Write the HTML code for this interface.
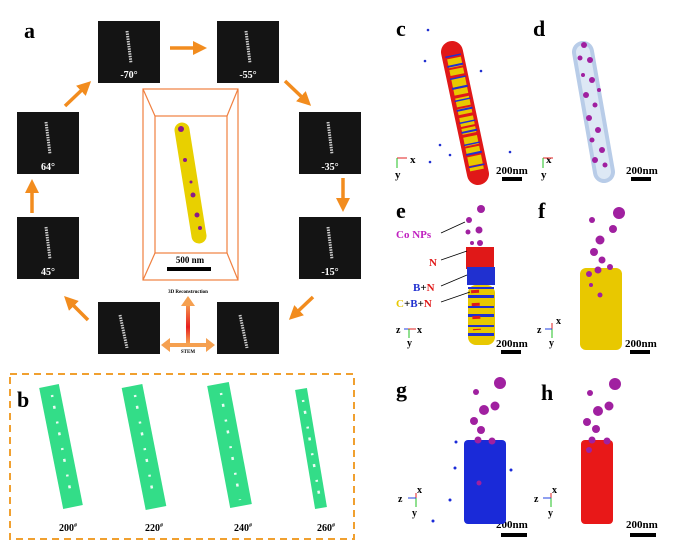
<!DOCTYPE html>
<html><head><meta charset="utf-8"><style>
html,body{margin:0;padding:0;background:#fff;}
svg{display:block;font-family:"Liberation Serif",serif;}
</style></head><body>
<svg width="674" height="547" viewBox="0 0 674 547" xmlns="http://www.w3.org/2000/svg">
<defs>
<marker id="ah" markerWidth="4" markerHeight="4" refX="2" refY="2" orient="auto"><path d="M0,0 L4,2 L0,4 Z" fill="#f28c1e"/></marker>
<linearGradient id="rg" x1="0" y1="0" x2="0" y2="1"><stop offset="0" stop-color="#f5a050"/><stop offset="0.6" stop-color="#e82020"/><stop offset="1" stop-color="#f5a050"/></linearGradient>
<g id="stem"><rect width="62" height="62" fill="#141414"/><line x1="29" y1="10" x2="33" y2="42" stroke="#ccc" stroke-width="3" stroke-dasharray="1.5 1"/></g>
</defs>
<text x="24" y="38" font-size="22" font-weight="bold">a</text>
<use href="#stem" x="98" y="21"/><text x="129" y="78" fill="#fff" font-size="10" font-weight="bold" text-anchor="middle">-70°</text>
<use href="#stem" x="217" y="21"/><text x="248" y="78" fill="#fff" font-size="10" font-weight="bold" text-anchor="middle">-55°</text>
<use href="#stem" x="17" y="112"/><text x="48" y="170" fill="#fff" font-size="10" font-weight="bold" text-anchor="middle">64°</text>
<use href="#stem" x="299" y="112"/><text x="330" y="170" fill="#fff" font-size="10" font-weight="bold" text-anchor="middle">-35°</text>
<use href="#stem" x="17" y="217"/><text x="48" y="275" fill="#fff" font-size="10" font-weight="bold" text-anchor="middle">45°</text>
<use href="#stem" x="299" y="217"/><text x="330" y="275" fill="#fff" font-size="10" font-weight="bold" text-anchor="middle">-15°</text>
<rect x="98" y="302" width="62" height="52" fill="#141414"/><line x1="120" y1="315" x2="127" y2="348" stroke="#ccc" stroke-width="3" stroke-dasharray="1.5 1"/>
<rect x="217" y="302" width="62" height="52" fill="#141414"/><line x1="240" y1="315" x2="247" y2="348" stroke="#ccc" stroke-width="3" stroke-dasharray="1.5 1"/>
<g stroke="#f28c1e" stroke-width="3.5" fill="none" marker-end="url(#ah)">
<line x1="170" y1="48" x2="200" y2="48"/><line x1="285" y1="81" x2="306" y2="101"/><line x1="343" y1="178" x2="343" y2="205"/>
<line x1="313" y1="297" x2="294" y2="315"/><line x1="88" y1="320" x2="69" y2="301"/><line x1="32" y1="213" x2="32" y2="186"/><line x1="65" y1="106" x2="86" y2="86"/>
</g>
<g stroke="#f08040" stroke-width="1.2" fill="none">
<rect x="143" y="89" width="95" height="191"/><rect x="155" y="116" width="72" height="137"/>
<line x1="143" y1="89" x2="155" y2="116"/><line x1="238" y1="89" x2="227" y2="116"/><line x1="143" y1="280" x2="155" y2="253"/><line x1="238" y1="280" x2="227" y2="253"/>
</g>
<line x1="182" y1="130" x2="199" y2="236" stroke="#e8d000" stroke-width="15" stroke-linecap="round"/>
<g fill="#8a1a8a"><circle cx="181" cy="129" r="3"/><circle cx="185" cy="160" r="2"/><circle cx="193" cy="195" r="2.5"/><circle cx="197" cy="215" r="2.5"/><circle cx="200" cy="228" r="2"/><circle cx="191" cy="182" r="1.5"/></g>
<text x="190" y="263" font-size="9" font-weight="bold" text-anchor="middle">500 nm</text>
<rect x="167" y="267" width="44" height="4" fill="#000"/>
<rect x="186" y="303" width="4" height="40" fill="url(#rg)"/><path d="M181,306 L188,296 L195,306 Z" fill="#f5a050"/>
<rect x="168" y="343" width="40" height="4" fill="#f5a050"/><path d="M170,338 L161,345 L170,352 Z M206,338 L215,345 L206,352 Z" fill="#f5a050"/>
<text x="188" y="293" font-size="5" font-weight="bold" text-anchor="middle">3D Reconstruction</text>
<text x="188" y="353" font-size="5" font-weight="bold" text-anchor="middle">STEM</text>
<rect x="10" y="374" width="344" height="165" fill="none" stroke="#f0a030" stroke-width="2" stroke-dasharray="7 5"/>
<text x="17" y="407" font-size="22" font-weight="bold">b</text>
<g stroke="#33dd88" stroke-linecap="butt">
<line x1="49" y1="386" x2="73" y2="507" stroke-width="20"/><line x1="132" y1="386" x2="156" y2="508" stroke-width="21"/>
<line x1="218" y1="384" x2="241" y2="506" stroke-width="22"/><line x1="301" y1="389" x2="321" y2="508" stroke-width="12"/>
</g>
<g stroke="#fff" stroke-width="2.5" stroke-dasharray="2 9 3 13" opacity="0.9">
<line x1="52" y1="395" x2="72" y2="500"/><line x1="135" y1="395" x2="154" y2="500"/><line x1="221" y1="393" x2="240" y2="500"/><line x1="303" y1="400" x2="320" y2="500"/>
</g>
<g font-size="10" font-weight="bold" text-anchor="middle"><text x="68" y="531">200<tspan font-size="6" dy="-4">#</tspan></text><text x="154" y="531">220<tspan font-size="6" dy="-4">#</tspan></text><text x="243" y="531">240<tspan font-size="6" dy="-4">#</tspan></text><text x="326" y="531">260<tspan font-size="6" dy="-4">#</tspan></text></g>
<g font-size="22" font-weight="bold"><text x="396" y="36">c</text><text x="533" y="36">d</text><text x="396" y="218">e</text><text x="538" y="218">f</text><text x="396" y="397">g</text><text x="541" y="400">h</text></g>
<line x1="452" y1="52" x2="478" y2="174" stroke="#e01818" stroke-width="22" stroke-linecap="round"/>
<line x1="454" y1="58" x2="477" y2="170" stroke="#e8c800" stroke-width="14" stroke-dasharray="9 2 6 3"/>
<line x1="453" y1="55" x2="478" y2="172" stroke="#2030d0" stroke-width="16" stroke-dasharray="1.5 8 2 11"/>
<g fill="#2030d0"><circle cx="428" cy="30" r="1.3"/><circle cx="425" cy="61" r="1.3"/><circle cx="481" cy="71" r="1.3"/><circle cx="440" cy="145" r="1.3"/><circle cx="430" cy="162" r="1.3"/><circle cx="510" cy="152" r="1.3"/><circle cx="450" cy="155" r="1.3"/></g>
<line x1="583" y1="52" x2="604" y2="172" stroke="#b8cce8" stroke-width="22" stroke-linecap="round"/>
<line x1="583" y1="52" x2="604" y2="172" stroke="#dde8f5" stroke-width="14" stroke-linecap="round"/>
<g fill="#a020a0"><circle cx="584" cy="45" r="3"/><circle cx="590" cy="60" r="3"/><circle cx="580" cy="58" r="2.5"/><circle cx="592" cy="80" r="3"/><circle cx="586" cy="95" r="3"/><circle cx="595" cy="105" r="2.5"/><circle cx="589" cy="118" r="3"/><circle cx="598" cy="130" r="3"/><circle cx="592" cy="140" r="2.5"/><circle cx="602" cy="150" r="3"/><circle cx="595" cy="160" r="3"/><circle cx="605" cy="165" r="2.5"/><circle cx="599" cy="90" r="2"/><circle cx="583" cy="75" r="2"/></g>
<g font-family="Liberation Serif" font-weight="bold" font-size="11">
<text x="410" y="163">x</text><text x="395" y="178">y</text>
<text x="546" y="163">x</text><text x="541" y="178">y</text>
</g>
<g stroke-width="1"><path d="M397,158 h10" stroke="#e02020"/><path d="M397,158 v10" stroke="#20c020"/><path d="M543,158 h10" stroke="#e02020"/><path d="M543,158 v10" stroke="#20c020"/></g>
<g font-size="11" font-weight="bold"><text x="496" y="174">200nm</text><text x="626" y="174">200nm</text><text x="496" y="347">200nm</text><text x="625" y="347">200nm</text><text x="496" y="528">200nm</text><text x="626" y="528">200nm</text></g>
<g fill="#000"><rect x="502" y="177" width="20" height="4"/><rect x="631" y="177" width="20" height="4"/><rect x="501" y="350" width="20" height="4"/><rect x="630" y="350" width="20" height="4"/><rect x="501" y="533" width="26" height="4"/><rect x="630" y="533" width="26" height="4"/></g>
<rect x="466" y="247" width="28" height="22" fill="#e01818"/>
<rect x="467" y="267" width="28" height="18" fill="#2030d0"/>
<rect x="468" y="285" width="27" height="60" rx="8" fill="#e8c800"/>
<line x1="481" y1="287" x2="481" y2="342" stroke="#2030d0" stroke-width="26" stroke-dasharray="2 6 3 8"/>
<line x1="475" y1="290" x2="477" y2="330" stroke="#e01818" stroke-width="8" stroke-dasharray="3 10"/>
<g fill="#a020a0"><circle cx="481" cy="209" r="4"/><circle cx="469" cy="220" r="3"/><circle cx="479" cy="230" r="3.5"/><circle cx="468" cy="232" r="2.5"/><circle cx="480" cy="243" r="3"/><circle cx="472" cy="243" r="2"/></g>
<text x="396" y="238" font-size="11" font-weight="bold" fill="#c020c0">Co NPs</text>
<text x="429" y="266" font-size="11" font-weight="bold" fill="#e01818">N</text>
<text x="413" y="291" font-size="11" font-weight="bold"><tspan fill="#2030d0">B</tspan>+<tspan fill="#e01818">N</tspan></text>
<text x="396" y="307" font-size="11" font-weight="bold"><tspan fill="#e8c800">C</tspan>+<tspan fill="#2030d0">B</tspan>+<tspan fill="#e01818">N</tspan></text>
<g stroke="#000" stroke-width="0.8"><line x1="441" y1="233" x2="465" y2="222"/><line x1="441" y1="260" x2="467" y2="251"/><line x1="441" y1="286" x2="467" y2="275"/><line x1="441" y1="302" x2="470" y2="292"/></g>
<rect x="580" y="268" width="42" height="82" rx="6" fill="#e8c800"/>
<g fill="#a020a0"><circle cx="619" cy="213" r="6"/><circle cx="592" cy="220" r="3"/><circle cx="613" cy="229" r="4"/><circle cx="600" cy="240" r="4.5"/><circle cx="594" cy="252" r="4"/><circle cx="602" cy="260" r="3.5"/><circle cx="598" cy="270" r="3.5"/><circle cx="610" cy="267" r="3"/><circle cx="589" cy="274" r="3"/><circle cx="600" cy="295" r="2.5"/><circle cx="591" cy="285" r="2"/></g>
<g font-weight="bold" font-size="10"><text x="396" y="333">z</text><text x="417" y="333">x</text><text x="407" y="346">y</text><text x="537" y="333">z</text><text x="556" y="324">x</text><text x="549" y="346">y</text></g>
<g stroke-width="1"><path d="M404,329 h12" stroke="#e02020"/><path d="M409,329 v9" stroke="#20c020"/><path d="M404,329 h4" stroke="#2040e0"/><path d="M552,329 v-6" stroke="#e02020"/><path d="M552,329 v9" stroke="#20c020"/><path d="M545,329 h7" stroke="#2040e0"/></g>
<rect x="464" y="440" width="42" height="84" rx="4" fill="#1a2ad8"/>
<g fill="#1a2ad8"><circle cx="455" cy="468" r="1.5"/><circle cx="450" cy="500" r="1.5"/><circle cx="511" cy="470" r="1.5"/><circle cx="433" cy="521" r="1.5"/><circle cx="456" cy="442" r="1.5"/></g>
<rect x="581" y="440" width="32" height="84" rx="4" fill="#e81818"/>
<g fill="#a020a0">
<circle cx="500" cy="383" r="6"/><circle cx="476" cy="392" r="3"/><circle cx="495" cy="406" r="4.5"/><circle cx="484" cy="410" r="5"/><circle cx="474" cy="421" r="4"/><circle cx="481" cy="430" r="4"/><circle cx="478" cy="440" r="3.5"/><circle cx="492" cy="441" r="3.5"/><circle cx="479" cy="483" r="2.5"/>
<circle cx="615" cy="384" r="6"/><circle cx="590" cy="393" r="3"/><circle cx="609" cy="406" r="4.5"/><circle cx="598" cy="411" r="5"/><circle cx="587" cy="422" r="4"/><circle cx="596" cy="429" r="4"/><circle cx="592" cy="440" r="3.5"/><circle cx="607" cy="441" r="3.5"/><circle cx="589" cy="450" r="3"/>
</g>
<g font-weight="bold" font-size="10"><text x="398" y="502">z</text><text x="417" y="493">x</text><text x="412" y="516">y</text><text x="534" y="502">z</text><text x="552" y="493">x</text><text x="548" y="516">y</text></g>
<g stroke-width="1"><path d="M416,498 v-5" stroke="#e02020"/><path d="M416,498 v9" stroke="#20c020"/><path d="M408,498 h8" stroke="#2040e0"/><path d="M551,498 v-5" stroke="#e02020"/><path d="M551,498 v9" stroke="#20c020"/><path d="M543,498 h8" stroke="#2040e0"/></g>
</svg>
</body></html>
